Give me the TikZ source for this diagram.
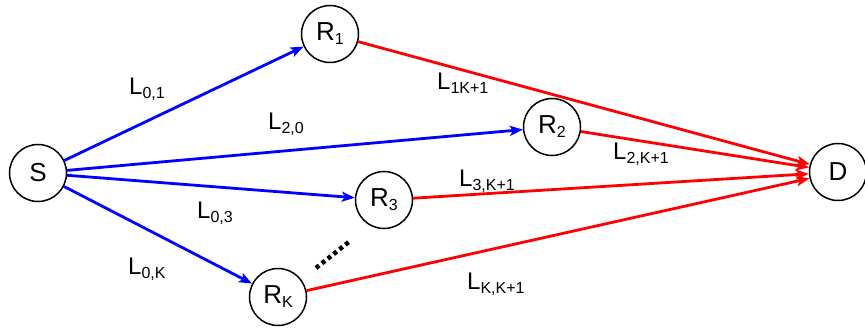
\documentclass[tikz,border=0pt]{standalone}
\usepackage{fontspec}
\setmainfont{Liberation Sans}
\usetikzlibrary{arrows.meta}
\newcommand{\sub}[1]{\raisebox{-4pt}{\fontsize{16}{16}\selectfont #1}}
\begin{document}
\begin{tikzpicture}[x=1pt, y=-1pt,
    station/.style={circle, draw, line width=1.5pt, minimum size=57pt, inner sep=0pt, font=\fontsize{26}{26}\selectfont},
    uplink/.style={blue, line width=2.8pt, -{Stealth[length=13pt, width=10pt, inset=3pt]}},
    downlink/.style={red, line width=2.8pt, -{Stealth[length=13pt, width=10pt, inset=3pt]}},
    linklabel/.style={anchor=base west, inner sep=0pt, font=\fontsize{24}{24}\selectfont}]
                \useasboundingbox (0,0) rectangle (865,331);
                % Wezly
                \node (S) at (38,173) [station] {S};
                \node (R1) at (330,34) [station] {R\sub{1}};
                \node (R2) at (552,127) [station] {R\sub{2}};
                \node (R3) at (384,200) [station] {R\sub{3}};
                \node (RK) at (278,297) [station] {R\sub{K}};
                \node (D) at (838,172) [station] {D};
                
                % Lacza od zrodla
                \draw[uplink] (S) -- (R1);
                \draw[uplink] (S) -- (R2);
                \draw[uplink] (S) -- (R3);
                \draw[uplink] (S) -- (RK);
                
                % Lacza do celu
                \draw[downlink] (R1) -- (D);
                \draw[downlink] (R2) -- (D);
                \draw[downlink] (R3) -- (D);
                \draw[downlink] (RK) -- (D);
                
                % Kropki
                \coordinate (dotsA) at (316,268);
                \coordinate (dotsB) at (350,241);
                \draw[line width=4.5pt, dash pattern=on 4pt off 3.5pt] (dotsA) -- (dotsB);
                
                % Etykiety
                \node (l01) at (129,95) [linklabel] {L\sub{0,1}};
                \node (l20) at (268,130) [linklabel] {L\sub{2,0}};
                \node (l03) at (197,219) [linklabel] {L\sub{0,3}};
                \node (l0K) at (128,274) [linklabel] {L\sub{0,K}};
                \node (l1K) at (437,90) [linklabel] {L\sub{1K+1}};
                \node (l2K) at (613,160) [linklabel] {L\sub{2,K+1}};
                \node (l3K) at (459,187) [linklabel] {L\sub{3,K+1}};
                \node (lKK) at (467,289) [linklabel] {L\sub{K,K+1}};
                
            \end{tikzpicture}
\end{document}
